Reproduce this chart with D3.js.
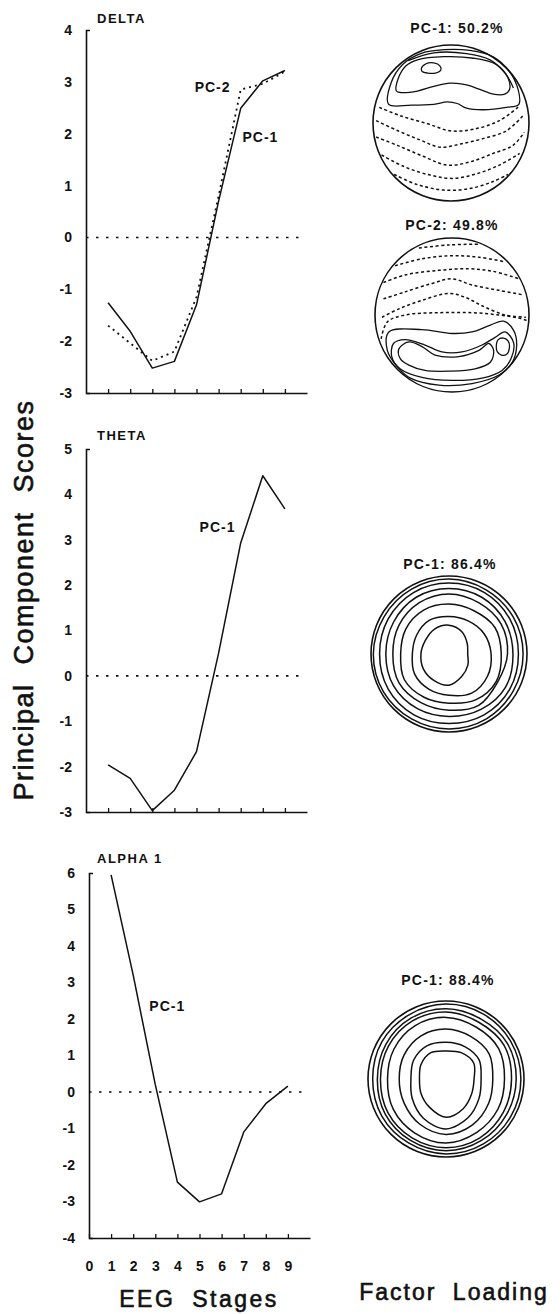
<!DOCTYPE html>
<html>
<head>
<meta charset="utf-8">
<script src="https://cdn.jsdelivr.net/npm/d3@7"></script>
<style>
  body { margin: 0; background: #fff; }
  svg { display: block; }
  text { font-family: "Liberation Sans", Arial, Helvetica, sans-serif; fill: #111; }
</style>
</head>
<body>
<svg id="chart"></svg>
<script>
// EEG stages on the x axis
const stages = [1, 2, 3, 4, 5, 6, 7, 8, 9];
const stageLabels = [0, 1, 2, 3, 4, 5, 6, 7, 8, 9];

// principal component scores
const deltaPC1 = [-1.26, -1.81, -2.52, -2.39, -1.3, 0.7, 2.49, 3.02, 3.22];
const deltaPC2 = [-1.7, -2.04, -2.38, -2.2, -1.15, 0.8, 2.85, 2.96, 3.2];
const thetaPC1 = [-1.96, -2.26, -2.97, -2.52, -1.67, 0.5, 2.93, 4.41, 3.68];
const alphaPC1 = [5.95, 3.2, 0.2, -2.47, -3.01, -2.79, -1.1, -0.32, 0.16];

// y tick labels
const deltaTicks = [-3, -2, -1, 0, 1, 2, 3, 4];
const thetaTicks = [-3, -2, -1, 0, 1, 2, 3, 4, 5];
const alphaTicks = [-4, -3, -2, -1, 0, 1, 2, 3, 4, 5, 6];

// factor loading maps: contour lines in head-circle units (-1..1)
const delta1Outer = [[-0.80,-0.24],[-0.77,-0.51],[-0.62,-0.75],[-0.39,-0.89],[-0.09,-0.94],[0.24,-0.93],[0.54,-0.85],[0.75,-0.66],[0.86,-0.43],[0.87,-0.24],[0.71,-0.20],[0.41,-0.17],[0.20,-0.19],[0.08,-0.25],[-0.05,-0.27],[-0.22,-0.24],[-0.51,-0.23]];
const delta1Rim = [[-0.55,-0.80],[-0.22,-0.90],[0.2,-0.89],[0.5,-0.81],[0.7,-0.63],[0.8,-0.45]];
const delta1Inner = [[-0.70,-0.41],[-0.68,-0.56],[-0.58,-0.73],[-0.43,-0.81],[-0.09,-0.85],[0.29,-0.83],[0.58,-0.75],[0.73,-0.58],[0.75,-0.43],[0.69,-0.37],[0.54,-0.37],[0.37,-0.43],[0.20,-0.49],[-0.01,-0.51],[-0.22,-0.47],[-0.43,-0.41],[-0.64,-0.39]];
const delta1Peak = [[-0.38,-0.70],[-0.32,-0.76],[-0.22,-0.77],[-0.14,-0.73],[-0.13,-0.68],[-0.20,-0.64],[-0.30,-0.64],[-0.37,-0.66]];
const delta1Neg = [
  [[-0.92,-0.20],[-0.64,-0.09],[-0.30,0.01],[-0.01,0.10],[0.29,0.08],[0.62,-0.03],[0.88,-0.22]],
  [[-0.96,-0.03],[-0.68,0.10],[-0.39,0.22],[-0.14,0.31],[0.12,0.27],[0.41,0.20],[0.71,0.10],[0.92,-0.09]],
  [[-0.96,0.18],[-0.68,0.29],[-0.35,0.43],[-0.05,0.54],[0.24,0.50],[0.54,0.39],[0.79,0.29],[0.94,0.12]],
  [[-0.89,0.41],[-0.60,0.56],[-0.26,0.67],[0.03,0.71],[0.33,0.65],[0.62,0.54],[0.88,0.39]],
  [[-0.73,0.66],[-0.43,0.79],[-0.09,0.86],[0.24,0.84],[0.54,0.75],[0.73,0.66]]
];

const delta2Outer = [[-0.84,0.46],[-0.82,0.22],[-0.39,0.19],[0,0.24],[0.26,0.22],[0.50,0.13],[0.67,0.08],[0.80,0.20],[0.84,0.40],[0.78,0.62],[0.61,0.78],[0.26,0.89],[-0.17,0.91],[-0.54,0.82],[-0.72,0.66]];
const delta2Mid = [[-0.76,0.37],[-0.61,0.32],[-0.35,0.39],[-0.13,0.48],[0.13,0.48],[0.39,0.39],[0.56,0.29],[0.69,0.22],[0.80,0.36],[0.77,0.56],[0.65,0.72],[0.39,0.82],[0,0.85],[-0.39,0.81],[-0.67,0.70],[-0.78,0.55]];
const delta2Inner = [[-0.69,0.44],[-0.56,0.35],[-0.39,0.41],[-0.22,0.52],[0.09,0.54],[0.35,0.46],[0.48,0.37],[0.54,0.46],[0.50,0.61],[0.30,0.70],[-0.04,0.73],[-0.35,0.72],[-0.56,0.65],[-0.67,0.57]];
const delta2Peak = [[0.575,0.41],[0.6,0.32],[0.67,0.30],[0.73,0.34],[0.745,0.43],[0.71,0.51],[0.64,0.52],[0.59,0.48]];
const delta2Neg = [
  [[-0.43,-0.87],[-0.04,-0.91],[0.34,-0.92]],
  [[-0.74,-0.64],[-0.39,-0.73],[0,-0.77],[0.35,-0.75],[0.69,-0.69]],
  [[-0.89,-0.42],[-0.61,-0.52],[-0.17,-0.58],[0.22,-0.60],[0.52,-0.57],[0.87,-0.47]],
  [[-0.89,-0.21],[-0.61,-0.30],[-0.26,-0.41],[0,-0.47],[0.26,-0.39],[0.61,-0.32],[0.93,-0.26]],
  [[-0.91,0.03],[-0.69,-0.08],[-0.39,-0.19],[-0.04,-0.28],[0.17,-0.23],[0.39,-0.12],[0.69,0],[0.96,0.03]],
  [[-0.92,0.31],[-0.84,0.09],[-0.61,0.0],[-0.17,-0.03],[0.26,-0.03],[0.61,0.0],[0.87,0.04],[0.97,0.07]]
];

// theta / alpha maps: radius of each ring at 0,30,...,330 degrees (0 = right, clockwise)
const thetaRings = [
  [0.95, 0.95, 0.96, 0.96, 0.96, 0.97, 0.97, 0.96, 0.96, 0.96, 0.95, 0.95],
  [0.89, 0.90, 0.90, 0.89, 0.90, 0.90, 0.89, 0.90, 0.91, 0.91, 0.91, 0.90],
  [0.82, 0.84, 0.82, 0.80, 0.81, 0.82, 0.81, 0.82, 0.84, 0.84, 0.84, 0.83],
  [0.75, 0.72, 0.76, 0.72, 0.72, 0.74, 0.72, 0.74, 0.76, 0.77, 0.76, 0.77],
  [0.67, 0.70, 0.68, 0.63, 0.64, 0.66, 0.62, 0.64, 0.65, 0.64, 0.64, 0.68],
  [0.54, 0.57, 0.58, 0.53, 0.52, 0.51, 0.47, 0.48, 0.50, 0.48, 0.49, 0.52],
  [0.24, 0.28, 0.33, 0.40, 0.39, 0.38, 0.36, 0.35, 0.37, 0.37, 0.33, 0.27]
];
const alphaRings = [
  [0.96, 0.96, 0.96, 0.96, 0.95, 0.95, 0.94, 0.95, 0.95, 0.96, 0.96, 0.96],
  [0.90, 0.90, 0.91, 0.92, 0.91, 0.90, 0.88, 0.89, 0.90, 0.90, 0.89, 0.91],
  [0.84, 0.85, 0.87, 0.88, 0.87, 0.86, 0.84, 0.85, 0.86, 0.86, 0.84, 0.86],
  [0.75, 0.77, 0.79, 0.82, 0.80, 0.78, 0.75, 0.77, 0.79, 0.79, 0.77, 0.78],
  [0.60, 0.63, 0.68, 0.71, 0.67, 0.62, 0.60, 0.62, 0.64, 0.64, 0.63, 0.64],
  [0.45, 0.49, 0.57, 0.64, 0.58, 0.50, 0.45, 0.48, 0.49, 0.47, 0.48, 0.49],
  [0.36, 0.38, 0.44, 0.49, 0.42, 0.37, 0.34, 0.37, 0.39, 0.36, 0.39, 0.41]
];

const W = 560, H = 1314;
const ink = '#111';

const svg = d3.select('#chart').attr('width', W).attr('height', H);

// ---- score panels ----
const panels = [
  { name: 'DELTA', ticks: deltaTicks, left: 86, top: 30, bottom: 393, nameY: 23,
    series: [{ values: deltaPC1, dash: null }, { values: deltaPC2, dash: '2,4' }],
    notes: [{ text: 'PC-2', s: 6.54, v: 2.81, anchor: 'end' }, { text: 'PC-1', s: 7.08, v: 1.84, anchor: 'start' }],
    xLabels: false },
  { name: 'THETA', ticks: thetaTicks, left: 86, top: 449, bottom: 812, nameY: 440,
    series: [{ values: thetaPC1, dash: null }],
    notes: [{ text: 'PC-1', s: 5.14, v: 3.16, anchor: 'start' }],
    xLabels: false },
  { name: 'ALPHA 1', ticks: alphaTicks, left: 89, top: 873, bottom: 1238, nameY: 863,
    series: [{ values: alphaPC1, dash: null }],
    notes: [{ text: 'PC-1', s: 2.73, v: 2.23, anchor: 'start' }],
    xLabels: true }
];

panels.forEach(p => {
  const x = d3.scaleLinear().domain([0, 10]).range([p.left, p.left + 221]);
  const y = d3.scaleLinear().domain(d3.extent(p.ticks)).range([p.bottom, p.top]);
  const g = svg.append('g').style('color', ink);

  // y axis
  const ya = g.append('g')
    .attr('transform', `translate(${p.left},0)`)
    .call(d3.axisLeft(y).tickValues(p.ticks).tickSize(0).tickSizeOuter(-4)
      .tickPadding(14).tickFormat(d => String(d)));
  ya.select('.domain').attr('stroke-width', 1.6);

  // x axis
  const xa = g.append('g')
    .attr('transform', `translate(0,${p.bottom})`)
    .call(d3.axisBottom(x).tickValues(p.xLabels ? stageLabels : stages)
      .tickSize(-4).tickSizeOuter(0).tickPadding(23)
      .tickFormat(p.xLabels ? d => String(d) : () => ''));
  xa.select('.domain').attr('stroke-width', 1.4);
  xa.selectAll('.tick line').attr('stroke-width', 1.3);

  g.selectAll('.tick text')
    .attr('font-family', '"Liberation Sans", Arial, sans-serif')
    .attr('font-size', 14).attr('font-weight', 'bold').attr('fill', ink);

  // zero reference
  g.append('line')
    .attr('x1', x(0)).attr('x2', x(9.85))
    .attr('y1', y(0)).attr('y2', y(0))
    .attr('stroke', ink).attr('stroke-width', 1.6)
    .attr('stroke-dasharray', '2.5,7.5');

  const line = d3.line().x((d, i) => x(stages[i])).y(d => y(d));
  p.series.forEach(s => {
    g.append('path')
      .attr('d', line(s.values))
      .attr('fill', 'none').attr('stroke', ink)
      .attr('stroke-width', s.dash ? 1.8 : 1.5)
      .attr('stroke-dasharray', s.dash)
      .attr('stroke-linejoin', 'round');
  });

  p.notes.forEach(n => {
    g.append('text')
      .attr('x', x(n.s)).attr('y', y(n.v))
      .attr('text-anchor', n.anchor)
      .attr('font-size', 14).attr('font-weight', 'bold')
      .style('letter-spacing', '1px')
      .text(n.text);
  });

  g.append('text')
    .attr('x', 97).attr('y', p.nameY)
    .attr('font-size', 13).attr('font-weight', 'bold')
    .style('letter-spacing', '1.5px')
    .text(p.name);
});

// ---- factor loading maps ----
const maps = [
  { title: 'PC-1: 50.2%', cx: 451, cy: 123, r: 78, tx: 457, ty: 33,
    closed: [delta1Outer, delta1Inner, delta1Peak], open: [delta1Rim], dashed: delta1Neg },
  { title: 'PC-2: 49.8%', cx: 452, cy: 315, r: 77, tx: 452, ty: 230,
    closed: [delta2Outer, delta2Mid, delta2Inner, delta2Peak], open: [], dashed: delta2Neg },
  { title: 'PC-1: 86.4%', cx: 449, cy: 654, r: 78, tx: 450, ty: 569, rings: thetaRings },
  { title: 'PC-1: 88.4%', cx: 446, cy: 1079, r: 78, tx: 448, ty: 985, rings: alphaRings }
];

maps.forEach(m => {
  const g = svg.append('g');
  const sx = d3.scaleLinear().domain([-1, 1]).range([m.cx - m.r, m.cx + m.r]);
  const sy = d3.scaleLinear().domain([-1, 1]).range([m.cy - m.r, m.cy + m.r]);
  const sr = d3.scaleLinear().domain([0, 1]).range([0, m.r]);

  g.append('circle')
    .attr('cx', m.cx).attr('cy', m.cy).attr('r', m.r)
    .attr('fill', 'none').attr('stroke', ink).attr('stroke-width', 1.6);

  const closedLine = d3.line().x(d => sx(d[0])).y(d => sy(d[1]))
    .curve(d3.curveCatmullRomClosed.alpha(0.5));
  const openLine = d3.line().x(d => sx(d[0])).y(d => sy(d[1]))
    .curve(d3.curveCatmullRom.alpha(0.5));

  (m.closed || []).forEach(c => {
    g.append('path').attr('d', closedLine(c))
      .attr('fill', 'none').attr('stroke', ink).attr('stroke-width', 1.3);
  });
  (m.open || []).forEach(c => {
    g.append('path').attr('d', openLine(c))
      .attr('fill', 'none').attr('stroke', ink).attr('stroke-width', 1.3);
  });
  (m.dashed || []).forEach(c => {
    g.append('path').attr('d', openLine(c))
      .attr('fill', 'none').attr('stroke', ink).attr('stroke-width', 1.5)
      .attr('stroke-dasharray', '3,2.6');
  });

  if (m.rings) {
    const ring = d3.lineRadial()
      .angle((d, i, arr) => i * 2 * Math.PI / arr.length + Math.PI / 2)
      .radius(d => sr(d))
      .curve(d3.curveCatmullRomClosed.alpha(0.5));
    m.rings.forEach(rr => {
      g.append('path')
        .attr('transform', `translate(${m.cx},${m.cy})`)
        .attr('d', ring(rr))
        .attr('fill', 'none').attr('stroke', ink).attr('stroke-width', 1.5);
    });
  }

  g.append('text')
    .attr('x', m.tx).attr('y', m.ty)
    .attr('text-anchor', 'middle')
    .attr('font-size', 14).attr('font-weight', 'bold')
    .style('letter-spacing', '1.2px')
    .text(m.title);
});

// ---- axis titles (slightly heavier than regular weight, like the print) ----
const heavy = sel => sel.attr('stroke', ink).attr('stroke-width', 0.6);

svg.append('text')
  .attr('transform', 'translate(33,600) rotate(-90)')
  .attr('text-anchor', 'middle')
  .attr('font-size', 27)
  .style('letter-spacing', '1.5px').style('word-spacing', '10px')
  .call(heavy)
  .text('Principal Component Scores');

svg.append('text')
  .attr('x', 199).attr('y', 1307)
  .attr('text-anchor', 'middle')
  .attr('font-size', 23)
  .style('letter-spacing', '2.5px').style('word-spacing', '8px')
  .call(heavy)
  .text('EEG Stages');

svg.append('text')
  .attr('x', 454).attr('y', 1300)
  .attr('text-anchor', 'middle')
  .attr('font-size', 23)
  .style('letter-spacing', '2px').style('word-spacing', '8px')
  .call(heavy)
  .text('Factor Loading');
</script>
</body>
</html>
